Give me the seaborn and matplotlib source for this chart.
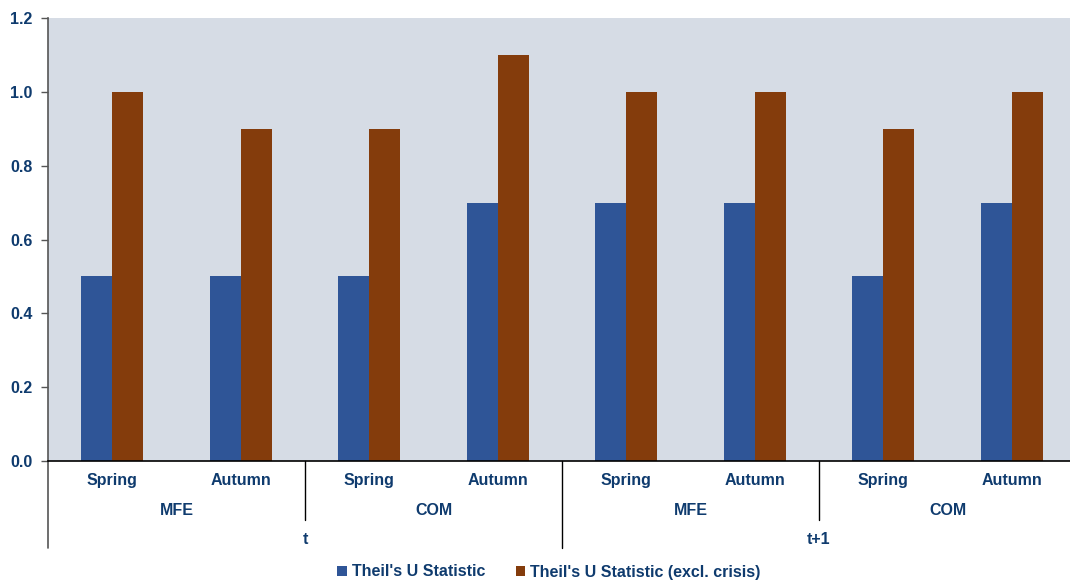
import matplotlib
matplotlib.use("Agg")
import matplotlib.pyplot as plt
import matplotlib.transforms as mtransforms
from matplotlib.patches import Patch
import pandas as pd
import seaborn as sns

# Category levels
seasons = ["Spring", "Autumn", "Spring", "Autumn", "Spring", "Autumn", "Spring", "Autumn"]
sources = ["MFE", "COM", "MFE", "COM"]
horizons = ["t", "t+1"]

# Series values
theil_u = [0.5, 0.5, 0.5, 0.7, 0.7, 0.7, 0.5, 0.7]
theil_u_excl = [1.0, 0.9, 0.9, 1.1, 1.0, 1.0, 0.9, 1.0]
series_names = ["Theil's U Statistic", "Theil's U Statistic (excl. crisis)"]

y_ticks = [0.0, 0.2, 0.4, 0.6, 0.8, 1.0, 1.2]

BLUE = "#2F5597"
BROWN = "#843C0C"
BG = "#D6DCE5"
NAVY = "#0F3B6E"

sns.set_theme(style="white")
plt.rcParams["font.family"] = ["Liberation Sans", "DejaVu Sans"]

rows = []
for i in range(len(seasons)):
    rows.append({"pos": i, "series": series_names[0], "value": theil_u[i]})
    rows.append({"pos": i, "series": series_names[1], "value": theil_u_excl[i]})
df = pd.DataFrame(rows)

fig = plt.figure(figsize=(10.70, 5.81), dpi=100)
ax = fig.add_axes([48 / 1070, 1 - 461 / 581, 1028 / 1070, 443 / 581])
ax.set_facecolor(BG)

sns.barplot(data=df, x="pos", y="value", hue="series", palette=[BLUE, BROWN],
            width=0.485, ax=ax, legend=False, saturation=1, linewidth=0)

ax.set_xlim(-0.5, len(seasons) - 0.5)
ax.set_ylim(0, 1.2)
ax.set_yticks(y_ticks)
ax.set_yticklabels([f"{v:.1f}" for v in y_ticks], fontsize=11.5,
                   fontweight="bold", color=NAVY)
ax.tick_params(axis="y", length=5, width=1, color="#555555", pad=6, left=True)
ax.set_xticks([])
ax.set_xlabel("")
ax.set_ylabel("")

for s in ["top", "right"]:
    ax.spines[s].set_visible(False)
ax.spines["left"].set_color("#555555")
ax.spines["left"].set_linewidth(1.2)
ax.spines["bottom"].set_color("black")
ax.spines["bottom"].set_linewidth(1.2)

trans = mtransforms.blended_transform_factory(ax.transData, ax.transAxes)

# Multi-level category labels
for i, s in enumerate(seasons):
    ax.text(i, -0.043, s, transform=trans, ha="center", va="center",
            fontsize=11.5, fontweight="bold", color=NAVY)
for j, s in enumerate(sources):
    ax.text(2 * j + 0.5, -0.111, s, transform=trans, ha="center", va="center",
            fontsize=11.5, fontweight="bold", color=NAVY)
for k, h in enumerate(horizons):
    ax.text(4 * k + 1.5, -0.178, h, transform=trans, ha="center", va="center",
            fontsize=11.5, fontweight="bold", color=NAVY)

# Group separators below the axis
ax.plot([-0.5, -0.5], [0, -0.196], transform=trans, color="#555555",
        lw=1.2, clip_on=False)
for b in [1.5, 5.5]:
    ax.plot([b, b], [0, -0.133], transform=trans, color="black", lw=1.0, clip_on=False)
ax.plot([3.5, 3.5], [0, -0.196], transform=trans, color="black", lw=1.0, clip_on=False)

handles = [Patch(facecolor=BLUE, edgecolor="none"), Patch(facecolor=BROWN, edgecolor="none")]
leg = fig.legend(handles, series_names, loc="center", bbox_to_anchor=(0.513, 1 - 572 / 581),
                 ncol=2, frameon=False, handlelength=0.6, handleheight=0.6,
                 handletextpad=0.3, columnspacing=1.9,
                 prop={"size": 11.5, "weight": "bold"})
for t in leg.get_texts():
    t.set_color(NAVY)

fig.savefig("out.png", dpi=100, facecolor="white")
